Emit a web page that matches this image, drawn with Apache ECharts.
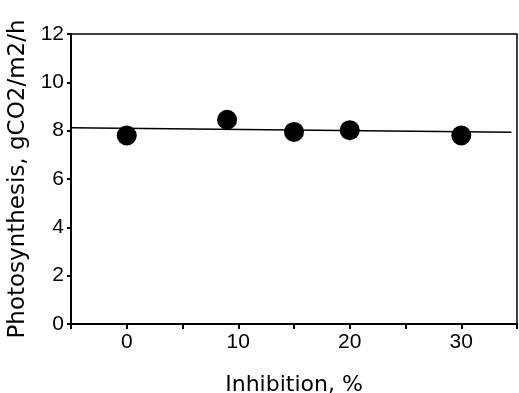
<!DOCTYPE html>
<html><head><meta charset="utf-8">
<script src="https://cdn.jsdelivr.net/npm/echarts@6/dist/echarts.min.js"></script>
<style>html,body{margin:0;padding:0;background:#fff}#c{width:519px;height:393px}</style>
</head><body><div id="c"></div>
<script>
const inhibition = [0, 9, 15, 20, 30];
const photosynthesis = [7.8, 8.45, 7.95, 8.02, 7.8];
const fitX = [-5, 34.5];
const fitY = [8.12, 7.93];
const xTickLabels = ['0', '10', '20', '30'];

const chart = echarts.init(document.getElementById('c'));
const font = 'Liberation Sans';
const nameFont = 'DejaVu Sans';
chart.setOption({
  animation: false,
  grid: {left: 71, right: 2, top: 34, bottom: 69, containLabel: false, outerBoundsMode: 'none',
    show: true, borderColor: '#000', borderWidth: 1.5, backgroundColor: 'transparent'},
  xAxis: {
    type: 'value', min: -5, max: 35, interval: 5,
    name: 'Inhibition, %', nameLocation: 'middle', nameGap: 50,
    nameTextStyle: {fontFamily: nameFont, fontSize: 22, color: '#000'},
    axisLine: {onZero: false, lineStyle: {color: '#000', width: 2}},
    axisTick: {show: true, length: 5, lineStyle: {color: '#000', width: 2}},
    axisLabel: {fontFamily: font, fontSize: 21, color: '#000', margin: 8,
      formatter: v => xTickLabels.includes(String(v)) ? String(v) : ''},
    splitLine: {show: false}
  },
  yAxis: {
    type: 'value', min: 0, max: 12, interval: 2,
    name: 'Photosynthesis, gCO2/m2/h', nameLocation: 'middle', nameGap: 32,
    nameTextStyle: {fontFamily: nameFont, fontSize: 23, color: '#000'},
    axisLine: {onZero: false, lineStyle: {color: '#000', width: 2}},
    axisTick: {show: true, length: 4, lineStyle: {color: '#000', width: 2}},
    axisLabel: {fontFamily: font, fontSize: 21, color: '#000', margin: 7},
    splitLine: {show: false}
  },
  series: [
    {type: 'line', data: fitX.map((x, i) => [x, fitY[i]]), symbol: 'none',
      lineStyle: {color: '#000', width: 1.5}},
    {type: 'scatter', data: inhibition.map((x, i) => [x, photosynthesis[i]]),
      symbol: 'circle', symbolSize: 20, itemStyle: {color: '#000', opacity: 1}}
  ]
});
</script></body></html>
